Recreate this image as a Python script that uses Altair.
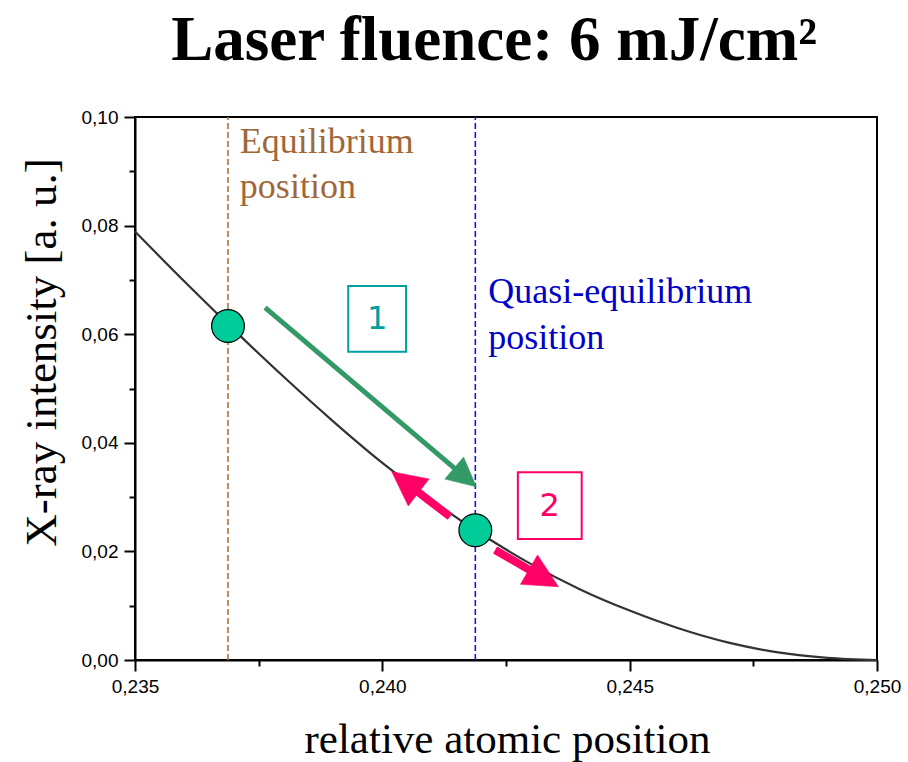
import math
import altair as alt
import pandas as pd

# ---- data ----
curve_x = [0.235, 0.236, 0.237, 0.238, 0.239, 0.240, 0.241, 0.242,
           0.243, 0.244, 0.245, 0.246, 0.247, 0.248, 0.249, 0.250]
curve_y = [0.0789, 0.0697, 0.0608, 0.0522, 0.0440, 0.0363, 0.0294, 0.0232,
           0.0177, 0.0130, 0.0091, 0.0058, 0.0032, 0.0014, 0.0004, 0.0]

dot_x = [0.23688, 0.24188]
dot_y = [0.0615, 0.0239]

vline_x = [0.23688, 0.24188]
vline_color = ["#b07440", "#1a1ad6"]

# arrows: tail -> tip
arrow_x0 = [0.23763, 0.24137, 0.24228]
arrow_y0 = [0.0649, 0.02639, 0.02026]
arrow_x1 = [0.24190, 0.24019, 0.24356]
arrow_y1 = [0.0319, 0.03468, 0.01350]
arrow_color = ["#339966", "#ff0066", "#ff0066"]
arrow_width = [5, 8, 8]
arrow_head = [29, 34, 34]

box_x0 = [0.23931, 0.24274]
box_x1 = [0.24048, 0.24403]
box_y0 = [0.05678, 0.02228]
box_y1 = [0.06888, 0.03457]
box_label = ["1", "2"]
box_color = ["#00a0a0", "#ff0066"]

title_text = "Laser fluence: 6 mJ/cm²"
title_x = [0.24226]
title_y = [0.1105]

X_MIN, X_MAX = 0.235, 0.250
Y_MIN, Y_MAX = 0.0, 0.10
W, H = 742, 543

x_ticks = [0.235, 0.2375, 0.24, 0.2425, 0.245, 0.2475, 0.25]
y_ticks = [0.0, 0.01, 0.02, 0.03, 0.04, 0.05, 0.06, 0.07, 0.08, 0.09, 0.10]

xs = alt.Scale(domain=[X_MIN, X_MAX], nice=False, zero=False)
ys = alt.Scale(domain=[Y_MIN, Y_MAX], nice=False, zero=False)

x_axis = alt.Axis(
    values=x_ticks,
    labelExpr="round(datum.value*10000) % 50 == 0 ? replace(format(datum.value, '.3f'), '.', ',') : ''",
    tickSize={"condition": {"test": "round(datum.value*10000) % 50 == 0", "value": 11}, "value": 6},
    grid=False, domainColor="black", domainWidth=2, tickColor="black", tickWidth=2,
    labelFont="Liberation Sans", labelFontSize=19, labelColor="black", labelPadding=6,
    labelFlush=False, labelOverlap=False,
    title="relative atomic position", titleFont="Liberation Serif", titleFontSize=43,
    titleFontWeight="normal", titleColor="black", titleX=372, titleY=92,
    titleBaseline="alphabetic", titleAlign="center",
)
y_axis = alt.Axis(
    values=y_ticks,
    labelExpr="round(datum.value*100) % 2 == 0 ? replace(format(datum.value, '.2f'), '.', ',') : ''",
    tickSize={"condition": {"test": "round(datum.value*100) % 2 == 0", "value": 11}, "value": 6},
    grid=False, domainColor="black", domainWidth=2, tickColor="black", tickWidth=2,
    labelFont="Liberation Sans", labelFontSize=19, labelColor="black", labelPadding=6,
    labelFlush=False, labelOverlap=False,
    title="X-ray intensity [a. u.]", titleFont="Liberation Serif", titleFontSize=45,
    titleFontWeight="normal", titleColor="black", titleAngle=-90, titleX=-80, titleY=235,
    titleBaseline="alphabetic", titleAlign="center",
)

X = alt.X("x:Q", scale=xs, axis=x_axis)
Y = alt.Y("y:Q", scale=ys, axis=y_axis)

# vertical dashed lines
vl_layers = []
for vx, vc in zip(vline_x, vline_color):
    d = pd.DataFrame({"x": [vx], "y": [Y_MIN], "y_end": [Y_MAX]})
    vl_layers.append(
        alt.Chart(d).mark_rule(color=vc, strokeWidth=1.6, strokeDash=[6, 3]).encode(
            x=X, y=Y, y2="y_end:Q")
    )

curve = alt.Chart(pd.DataFrame({"x": curve_x, "y": curve_y})).mark_line(
    color="#333333", strokeWidth=2.2, interpolate="monotone").encode(x=X, y=Y)

dots = alt.Chart(pd.DataFrame({"x": dot_x, "y": dot_y})).mark_point(
    shape="circle", filled=True, fill="#00cc99", stroke="black", strokeWidth=1.2,
    size=1075, opacity=1).encode(x=X, y=Y)

# boxes
box_layers = []
for bx0, bx1, by0, by1, bl, bc in zip(box_x0, box_x1, box_y0, box_y1, box_label, box_color):
    d = pd.DataFrame({"x": [bx0], "x_end": [bx1], "y": [by0], "y_end": [by1]})
    box_layers.append(
        alt.Chart(d).mark_rect(fill="white", stroke=bc, strokeWidth=2).encode(
            x=X, x2="x_end:Q", y=Y, y2="y_end:Q")
    )
    t = pd.DataFrame({"x": [(bx0 + bx1) / 2], "y": [(by0 + by1) / 2], "label": [bl]})
    box_layers.append(
        alt.Chart(t).mark_text(font="DejaVu Sans", fontSize=32, color=bc,
                               align="center", baseline="middle").encode(
            x=X, y=Y, text="label:N")
    )

# arrows
px_per_x = W / (X_MAX - X_MIN)
px_per_y = H / (Y_MAX - Y_MIN)
arrow_layers = []
for x0, y0, x1, y1, c, w, hl in zip(arrow_x0, arrow_y0, arrow_x1, arrow_y1,
                                    arrow_color, arrow_width, arrow_head):
    dxp = (x1 - x0) * px_per_x
    dyp = -(y1 - y0) * px_per_y
    length = math.hypot(dxp, dyp)
    ang = math.degrees(math.atan2(dxp, -dyp)) % 360
    frac = (length - hl * 0.5) / length
    xe = x0 + (x1 - x0) * frac
    ye = y0 + (y1 - y0) * frac
    d = pd.DataFrame({"x": [x0], "y": [y0], "x_end": [xe], "y_end": [ye]})
    arrow_layers.append(
        alt.Chart(d).mark_rule(color=c, strokeWidth=w, strokeCap="butt").encode(
            x=X, y=Y, x2="x_end:Q", y2="y_end:Q")
    )
    h = pd.DataFrame({"x": [x1], "y": [y1]})
    arrow_layers.append(
        alt.Chart(h).mark_point(shape="M0,0L0.5,1L-0.5,1Z", filled=True, fill=c,
                                stroke=c, strokeWidth=0.5, opacity=1,
                                size=(hl * 2) ** 2, angle=ang).encode(x=X, y=Y)
    )

# text labels
eq_text = alt.Chart(pd.DataFrame({"x": [0.23712], "y": [0.09337],
                                  "label": ["Equilibrium\nposition"]})).mark_text(
    font="Liberation Serif", fontSize=36, color="#a0683a", align="left",
    baseline="alphabetic", lineBreak="\n", lineHeight=45).encode(x=X, y=Y, text="label:N")

qe_text = alt.Chart(pd.DataFrame({"x": [0.24214], "y": [0.06575],
                                  "label": ["Quasi-equilibrium\nposition"]})).mark_text(
    font="Liberation Serif", fontSize=36, color="#0000c8", align="left",
    baseline="alphabetic", lineBreak="\n", lineHeight=46).encode(x=X, y=Y, text="label:N")

title = alt.Chart(pd.DataFrame({"x": title_x, "y": title_y, "label": [title_text]})).mark_text(
    font="Liberation Serif", fontSize=63, fontWeight="bold", color="black",
    align="center", baseline="alphabetic").encode(x=X, y=Y, text="label:N")

chart = alt.layer(
    *vl_layers, curve, *box_layers, *arrow_layers, dots, eq_text, qe_text, title
).properties(
    width=W, height=H,
    padding={"left": 135, "top": 117, "right": 31, "bottom": 102},
    autosize=alt.AutoSizeParams(type="none"),
    background="white",
).configure_view(stroke="black", strokeWidth=2)

chart.save("out.html", embed_options={"renderer": "svg", "actions": False})
